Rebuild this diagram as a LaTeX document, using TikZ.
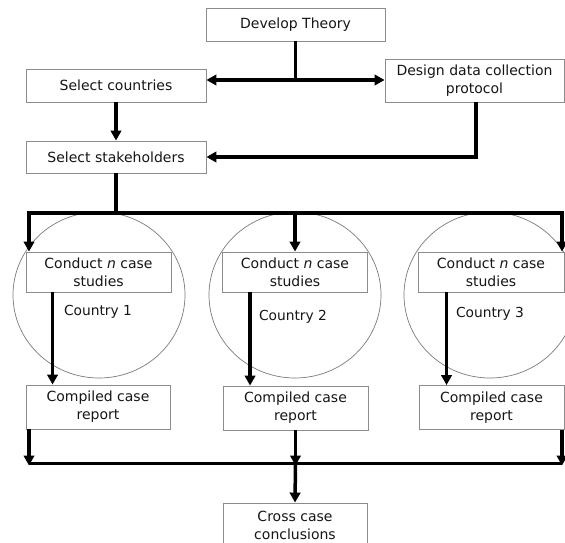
\documentclass[tikz,border=0pt]{standalone}
\usepackage{fontspec}
\setmainfont{DejaVu Sans}
\usetikzlibrary{arrows.meta,shapes.geometric}
\definecolor{boxgray}{HTML}{8C8C8C}
\definecolor{circgray}{HTML}{7A7A7A}
\definecolor{txt}{HTML}{161616}
\begin{document}
\begin{tikzpicture}[x=1pt,y=-1pt,
  box/.style={draw=boxgray, line width=0.9pt, fill=white, inner sep=0pt, align=center,
    font=\fontsize{14}{18}\selectfont, text=txt},
  lab/.style={inner sep=0pt, font=\fontsize{13.8}{16}\selectfont, text=txt},
  ring/.style={draw=circgray, line width=0.7pt, ellipse, minimum width=172pt, minimum height=166pt, inner sep=0pt},
  thk/.style={line width=3.5pt, line join=miter, draw=black},
  arr/.style={thk, -{Triangle[length=10pt,width=10.5pt]}},
  arr2/.style={thk, {Triangle[length=10pt,width=10.5pt]}-{Triangle[length=10pt,width=10.5pt]}},
]
\useasboundingbox (0,0) rectangle (565,543);
\clip (0,0) rectangle (565,543);

% circles (behind everything)
\node[ring] (o1) at (99,295) {};
\node[ring] (o2) at (295,295) {};
\node[ring] (o3) at (490,295) {};

% boxes
\node[box, minimum width=179pt, minimum height=33pt] (dev) at (295.5,24.5) {Develop Theory};
\node[box, minimum width=180pt, minimum height=33pt] (sc) at (116,85.5) {Select countries};
\node[box, minimum width=179pt, minimum height=43pt] (dd) at (474.5,80.5) {Design data collection\\protocol};
\node[box, minimum width=180pt, minimum height=32pt] (ss) at (116,157) {Select stakeholders};

\node[box, minimum width=145pt, minimum height=40pt] (c1) at (98.5,272) {Conduct \textit{n} case\\studies};
\node[box, minimum width=145pt, minimum height=40pt] (c2) at (295,272) {Conduct \textit{n} case\\studies};
\node[box, minimum width=146pt, minimum height=40pt] (c3) at (491,272) {Conduct \textit{n} case\\studies};

\node[box, minimum width=144pt, minimum height=44pt] (r1) at (98,407) {Compiled case\\report};
\node[box, minimum width=145pt, minimum height=44pt] (r2) at (295.5,408) {Compiled case\\report};
\node[box, minimum width=145pt, minimum height=44pt] (r3) at (491.5,407.5) {Compiled case\\report};

\node[box, minimum width=144pt, minimum height=44pt] (cc) at (295,525) {Cross case\\conclusions};

% country labels
\node[lab] (l1) at (98,312) {Country 1};
\node[lab] (l2) at (293,317) {Country 2};
\node[lab] (l3) at (490,314) {Country 3};

% top connectors
\coordinate (j1) at (295.5,80);
\draw[thk] (dev.south) -- (j1);
\draw[arr2] (j1 -| sc.east) -- (j1 -| dd.west);
\draw[arr] (sc.south) -- (ss.north);
\draw[arr] ([xshift=1.5pt]dd.south) |- (ss.east);

% distribution bar
\coordinate (tl) at (29,213);
\coordinate (tr) at (562,213);
\draw[thk] (ss.south) -- (ss.south |- tl);
\draw[arr2] (tl |- c1.north) -- (tl) -- (tr) -- (tr |- c3.north);
\draw[arr] (c2.north |- tl) -- (c2.north);

% inside circles
\draw[arr] ([xshift=27pt]c1.south west) -- ([xshift=27pt]c1.south west |- r1.north);
\draw[arr] ([xshift=28pt]c2.south west) -- ([xshift=28pt]c2.south west |- r2.north);
\draw[arr] ([xshift=29pt]c3.south west) -- ([xshift=29pt]c3.south west |- r3.north);

% collection bar
\coordinate (bl) at (29,463.5);
\coordinate (br) at (562,463.5);
\coordinate (bm) at (295.5,463.5);
\draw[thk] (bl) -- (br);
\draw[arr] (bl |- r1.south) -- ([yshift=-2pt]bl);
\draw[arr] (bm |- r2.south) -- ([yshift=-2pt]bm);
\draw[arr] (br |- r3.south) -- ([yshift=-2pt]br);
\draw[arr] (bm) -- (cc.north);
\end{tikzpicture}
\end{document}
